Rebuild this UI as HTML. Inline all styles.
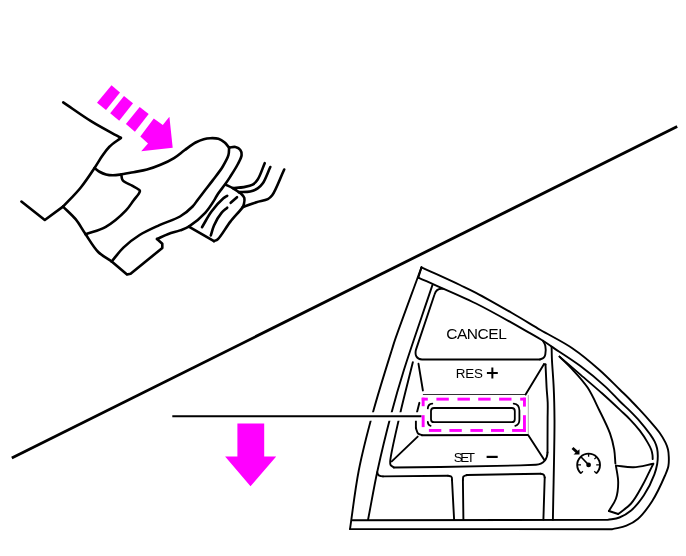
<!DOCTYPE html>
<html><head><meta charset="utf-8"><title>Cruise control</title>
<style>
html,body{margin:0;padding:0;background:#fff;}
body{width:686px;height:556px;overflow:hidden;font-family:"Liberation Sans",sans-serif;}
svg{display:block;}
text{font-family:"Liberation Sans",sans-serif;fill:#000;}
</style></head><body>
<svg width="686" height="556" viewBox="0 0 686 556">
<rect width="686" height="556" fill="#fff"/>
<!-- diagonal divider -->
<line x1="11.8" y1="458.1" x2="677.2" y2="126.6" stroke="#000" stroke-width="2.8"/>
<!-- shoe & pedal -->
<g fill="none" stroke="#000" stroke-width="2.6" stroke-linecap="round" stroke-linejoin="round">
<path d="M63.2,102.4 C72.7,108.8 82.1,115.7 91.8,121.7 C101.3,127.6 111.2,132.5 120.9,137.9"/>
<path d="M120.9,137.9 C117.1,140.8 112.6,143.6 109.4,146.7 C106.6,149.5 104.8,152.2 102.5,155.5 C99.8,159.2 97.6,163.4 94.5,168.0 C90.6,173.9 85.7,181.4 80.6,187.7 C75.3,194.3 68.9,200.3 63.0,206.6"/>
<path d="M63.0,206.6 L44.8,220.0 L21.4,201.6"/>
<path d="M94.5,168.0 C96.3,169.3 98.1,170.9 100.0,172.0 C101.9,173.1 103.9,173.9 106.0,174.5 C108.2,175.1 110.7,175.3 113.0,175.3 C115.3,175.3 117.3,175.0 120.0,174.6 C123.8,174.1 129.0,173.0 133.5,172.2 C138.0,171.3 142.5,170.7 147.0,169.5 C151.5,168.3 156.1,166.7 160.5,164.8 C165.1,162.9 169.9,160.7 174.0,158.1 C177.9,155.7 181.2,152.6 184.8,150.0 C188.4,147.4 192.2,144.4 195.6,142.5 C198.4,141.0 201.1,139.9 203.7,139.2 C205.9,138.6 207.9,138.3 210.2,138.2 C212.8,138.1 215.9,138.0 218.4,138.8 C220.7,139.5 222.9,141.1 224.7,142.6 C226.4,144.0 227.6,145.9 229.1,147.6"/>
<path d="M229.1,147.6 C228.9,150.1 229.2,152.5 228.4,155.2 C227.4,158.7 225.1,162.6 222.8,166.5 C220.1,171.0 216.0,176.0 212.7,180.4 C209.7,184.4 206.6,188.2 203.9,191.7 C201.6,194.7 199.6,197.4 197.6,200.0 C195.8,202.3 194.8,204.2 192.6,206.5 C189.5,209.7 184.9,213.6 180.0,216.5 C174.2,219.9 166.1,222.0 159.4,225.1 C152.7,228.2 145.7,231.2 139.6,235.0 C133.7,238.7 128.2,243.0 123.4,247.6 C118.9,251.9 115.6,256.9 111.7,261.5"/>
<path d="M229.1,147.6 C231.2,147.4 233.5,146.6 235.4,147.0 C237.2,147.4 239.4,148.7 240.4,150.1 C241.4,151.4 241.8,153.3 241.6,155.2 C241.4,157.8 239.5,160.9 237.9,164.0 C235.9,167.9 232.6,173.0 230.3,176.6 C228.5,179.4 227.2,181.4 225.3,184.1 C223.1,187.2 219.7,191.2 217.7,194.2 C216.3,196.4 215.8,197.8 214.3,200.1 C212.1,203.6 209.0,208.7 205.2,212.8 C200.8,217.6 193.6,223.6 188.8,226.6 C185.6,228.6 183.2,229.2 180.0,230.4 C176.4,231.7 172.2,232.6 168.4,234.0 C164.5,235.4 160.8,237.3 157.0,239.0"/>
<path d="M157.0,239.0 L162.3,243.7 L162.3,248.0 L130.6,273.7 L127.0,274.6 L111.7,261.5"/>
<path d="M63.0,206.6 C67.2,210.8 71.8,214.6 75.6,219.2 C79.4,223.8 82.0,229.1 85.6,234.3 C89.5,240.0 93.5,247.3 98.2,252.0 C102.3,256.1 107.2,258.3 111.7,261.5"/>
<path d="M85.6,234.3 C92.3,231.8 99.4,230.5 105.8,226.8 C112.9,222.8 121.1,215.5 126.0,210.4 C129.4,206.9 131.2,203.5 133.5,200.5 C135.5,197.9 138.0,195.1 139.0,193.3 C139.5,192.3 140.0,191.6 139.9,190.9 C139.8,190.2 139.0,189.8 138.2,189.2 C136.8,188.2 134.4,187.0 132.1,185.7 C129.3,184.1 124.4,182.6 122.7,180.3 C121.4,178.6 121.8,176.4 121.3,174.5"/>
<path d="M225.6,184.6 C227.9,185.7 230.4,186.7 232.6,188.0 C234.8,189.2 237.2,191.0 238.8,192.1 C239.9,192.8 240.6,193.2 241.4,194.0 C242.4,195.0 243.8,196.3 244.3,197.8 C244.8,199.6 244.3,202.4 243.9,204.1 C243.6,205.3 243.4,205.9 242.6,207.2 C240.7,210.3 234.4,216.5 230.4,221.6 C226.1,227.1 221.1,236.4 217.8,239.2 C216.4,240.4 215.3,240.5 214.0,241.1"/>
<path d="M214.0,241.1 L188.8,226.6"/>
<path d="M202.0,227.2 C205.2,222.0 207.9,216.3 211.5,211.5 C215.0,206.7 220.4,200.9 223.4,198.3 C224.9,197.0 225.9,196.6 227.2,195.8"/>
<path d="M210.8,235.4 C211.9,232.1 212.5,228.8 214.0,225.4 C215.8,221.3 218.9,215.9 221.5,212.8 C223.4,210.5 225.3,209.4 227.2,207.7"/>
<path d="M230.7,202.8 L237.0,197.2"/>
<path d="M232.6,188.0 C236.4,187.7 240.4,187.7 243.9,187.1 C247.0,186.5 250.3,186.0 252.7,184.6 C254.8,183.4 256.1,181.9 257.7,179.5 C260.2,175.8 262.4,168.6 264.7,163.2"/>
<path d="M238.8,192.1 C242.6,191.9 246.9,192.3 250.2,191.5 C253.0,190.9 255.6,189.8 257.7,188.4 C259.7,187.1 261.1,185.7 262.8,183.3 C265.4,179.6 267.8,172.4 270.3,167.0"/>
<path d="M242.6,207.2 C247.2,205.5 252.1,203.6 256.5,202.2 C260.4,201.0 265.0,200.6 267.8,199.1 C269.8,198.1 270.6,197.4 272.2,195.3 C275.7,190.7 280.2,178.1 284.2,169.5"/>
</g>
<!-- dashed arrow -->
<g fill="#ff00ff">
<polygon points="111.5,85.3 120,92.5 106,110 97,102.7"/>
<polygon points="124,96 133,103.3 119.2,120.7 110.2,113.2"/>
<polygon points="139.7,106.9 148.7,114 134.9,131.7 125.9,124"/>
<polygon points="153.8,118.6 162.8,124.9 169.4,116.8 172.7,147.7 141.2,151.3 148,143.4 140.3,136.6"/>
<polygon points="237.4,423.6 264.2,423.6 264.2,456.4 276.2,456.4 250.5,486.3 225.1,456.4 237.4,456.4"/>
</g>
<!-- panel -->
<g fill="none" stroke="#000" stroke-width="1.9" stroke-linecap="round" stroke-linejoin="round">
<path d="M350.0,529.1 C352.9,509.5 355.0,489.7 358.8,470.2 C362.7,450.5 367.8,431.2 373.2,411.5 C378.8,391.2 388.1,361.8 391.8,350.0 C393.3,345.2 393.4,344.6 395.0,339.9 C399.0,328.3 412.2,292.6 416.8,280.0 C418.9,274.2 419.9,271.5 421.5,267.3"/>
<path d="M421.5,267.3 C434.3,273.2 450.0,280.2 460.0,285.0 C466.5,288.1 469.7,289.5 476.0,292.8 C485.7,297.9 500.7,306.5 512.0,313.0 C522.1,318.8 530.7,324.2 540.5,330.0 C551.0,336.1 563.0,341.8 573.0,348.7 C582.6,355.2 591.4,362.8 599.5,370.0 C607.0,376.6 614.5,384.5 620.2,390.0 C624.2,393.9 627.1,396.6 630.4,400.0 C633.6,403.3 636.6,406.5 639.8,409.9 C643.1,413.4 646.4,417.1 649.7,420.8 C653.0,424.6 656.8,428.8 659.6,432.7 C662.0,436.1 664.0,439.5 665.5,442.6 C666.7,445.0 667.4,447.1 668.0,449.5 C668.6,451.9 668.7,454.4 668.8,457.0 C668.9,459.9 669.0,463.0 668.4,466.0 C667.8,469.2 666.7,471.6 665.0,475.5 C662.2,482.0 656.9,493.7 652.1,501.2 C647.8,507.8 643.0,514.5 638.1,518.7 C634.3,522.0 630.6,524.0 626.4,525.7 C622.1,527.5 617.1,528.0 612.4,529.2 L350,529.1"/>
<path d="M421.5,267.3 L418.3,277.7"/>
<path d="M418.3,277.7 C437.5,286.3 457.3,294.2 476.0,303.5 C494.5,312.7 518.2,326.5 530.0,333.2 C535.8,336.5 539.1,338.4 543.0,340.8 C546.2,342.8 547.9,344.1 551.6,346.6 C558.4,351.2 571.4,359.2 580.4,366.0 C589.0,372.4 597.8,379.7 604.8,386.1 C610.6,391.4 615.4,397.0 620.0,401.5 C623.6,405.1 626.6,407.6 629.9,410.9 C633.2,414.2 636.6,417.6 639.8,421.3 C643.2,425.2 647.0,430.0 649.7,433.7 C651.7,436.6 653.4,439.0 654.7,441.6 C655.8,443.9 656.6,446.1 657.1,448.5 C657.6,450.9 657.8,453.5 657.8,456.0 C657.8,458.6 657.7,461.2 657.2,464.0 C656.6,467.2 655.9,470.3 654.4,474.3 C652.2,480.2 648.0,489.1 643.9,495.3 C640.1,501.0 635.6,506.7 631.1,510.5 C627.4,513.7 623.4,515.9 619.4,517.5 C615.6,519.0 611.6,519.1 607.7,519.9 L352.5,520.3"/>
<path d="M432.5,284.9 C423.0,313.3 411.4,346.1 403.9,370.0 C398.5,387.2 395.2,398.9 391.0,414.7 C386.4,432.2 381.5,452.2 377.6,470.2 C373.9,487.1 371.3,503.1 368.1,519.5"/>
<path d="M443.3,288.9 C438.4,288 435.8,290.3 434.6,294.2 L416,349.6 C414.6,355 416.5,359.4 422,359.5 L540,359.5"/>
<path d="M540.0,359.4 C541.2,358.9 542.7,358.6 543.6,357.8 C544.5,357.0 545.0,355.9 545.3,354.5 C545.8,352.3 545.8,348.3 545.3,345.8 C544.9,343.8 543.8,342.5 543.0,340.8"/>
<path d="M412.9,362.1 C408.6,379.6 403.8,397.7 399.9,414.7 C396.3,430.7 390.5,454.5 390.2,461.4 C390.1,463.3 390.0,464.1 390.6,465.1 C391.2,466.1 392.8,466.6 393.9,467.4"/>
<path d="M393.9,467.5 L440,467 L520,465.4 L536,464.8 C543.5,464.4 547.4,459 547.5,452.5"/>
<path d="M547.5,452.5 C547.5,441.7 547.6,429.2 547.6,420.0 C547.6,413.3 547.9,408.2 547.7,402.6 C547.5,397.4 546.9,393.1 546.6,387.6 C546.2,380.7 545.9,372.2 545.5,364.5"/>
<path d="M418.5,363.8 L422.9,390.5"/>
<path d="M543.9,364.2 L525.6,394.5"/>
<path d="M545.5,364.5 L543.9,364.2"/>
<path d="M415.9,420.0 L415.9,428.1"/>
<path d="M415.9,428.1 C416.6,429.9 417.0,432.3 418.1,433.5 C419.1,434.5 420.6,434.6 421.9,435.2"/>
<path d="M421.9,435.2 L527.7,435.0"/>
<path d="M419.4,402.8 L417.0,412.3"/>
<path d="M417.7,436.6 L391.8,461.4"/>
<path d="M528.3,435.2 L544.5,460.3"/>
<path d="M551.6,346.6 C551.7,350.7 551.7,353.9 551.9,358.8 C552.2,366.4 553.3,377.7 553.7,387.6 C554.2,398.1 554.4,406.2 554.5,420.0 C554.6,444.1 553.4,486.5 552.9,519.8"/>
<path d="M559.5,356.6 C566.5,362.6 573.4,368.5 580.4,374.6 C587.5,380.8 595.2,387.2 602.0,393.3 C608.3,398.9 614.9,405.1 620.0,409.9 C623.8,413.5 626.7,415.9 629.9,419.3 C633.3,422.8 636.8,426.8 639.8,430.7 C642.7,434.5 645.7,439.1 647.7,442.6 C649.2,445.2 650.4,447.3 651.2,449.5 C651.9,451.4 652.3,453.3 652.5,455.0 C652.7,456.5 652.6,457.7 652.7,459.1"/>
<path d="M559.5,356.6 C564.1,361.2 568.7,365.4 573.2,370.3 C578.1,375.6 583.4,381.2 587.6,387.6 C592.1,394.4 595.5,402.4 599.2,410.0 C603.0,417.7 607.4,426.2 610.0,433.4 C612.1,439.2 613.3,444.5 614.2,449.7 C615.0,454.5 615.0,458.9 615.4,463.5"/>
<path d="M615.9,465.6 C621.7,466.2 627.4,467.5 633.4,467.3 C639.8,467.1 646.7,465.0 653.3,463.8"/>
<path d="M615.9,465.6 C616.7,471.2 618.2,476.9 618.2,482.5 C618.2,488.0 617.6,493.9 615.9,498.8 C614.3,503.3 611.2,506.9 608.9,511.0"/>
<path d="M608.9,511.0 L618.2,514.0"/>
<path d="M618.2,514.0 C622.5,510.5 627.2,507.9 631.1,503.5 C635.6,498.4 639.5,490.7 642.8,484.8 C645.6,479.9 647.9,474.7 649.8,470.8 C651.2,468.1 652.1,466.1 653.3,463.8"/>
<path d="M377.3,472.3 C377.7,475.4 379.6,476.4 383,476.4"/>
<path d="M383.0,476.4 L448.0,475.7"/>
<path d="M448.0,475.7 C449.2,476.1 451.0,476.2 451.6,477.0 C452.2,477.7 451.9,479.0 452.0,480.0"/>
<path d="M452.0,480.0 L454.1,519.5"/>
<path d="M463.4,519.5 L462.9,480.0"/>
<path d="M462.9,480.0 C463.1,478.8 462.8,477.3 463.5,476.5 C464.2,475.6 465.8,475.5 467.0,475.0"/>
<path d="M467.0,475.0 L540.7,473.7"/>
<path d="M540.7,473.7 C541.7,474.1 543.1,474.1 543.8,474.8 C544.4,475.4 544.4,476.6 544.7,477.5"/>
<path d="M544.7,477.5 L543.4,519.5"/>
</g>
<g fill="none" stroke="#000" stroke-width="0.8">
<path d="M422.9,394.5 L525.6,394.5"/>
</g>
<line x1="528.3" y1="395" x2="528.3" y2="434" stroke="#999" stroke-width="0.8"/>
<!-- leader line -->
<line x1="172.3" y1="416.5" x2="421" y2="416.5" stroke="#fff" stroke-width="8.6"/>
<line x1="172.3" y1="416.3" x2="421.5" y2="416.3" stroke="#000" stroke-width="2"/>
<!-- centre button -->
<g fill="none" stroke="#000" stroke-width="1.8" stroke-linecap="round">
<rect x="431" y="408" width="83.8" height="14.2" rx="3" ry="3"/>
<path d="M427.8,408.4 C428,405.5 429.8,403.8 432.3,403.6"/>
<path d="M427.8,422 C428,424.4 429,425.5 430.6,425.8"/>
<path d="M513.7,403.6 C517.5,404 519.4,406.6 519.4,410.6 L519.4,419.6 C519.4,423 518,425.3 515.3,425.8"/>
</g>
<!-- magenta dashed rectangle -->
<g fill="#ff00ff">
<rect x="421.7" y="397.7" width="6.1" height="2.9"/><rect x="421.7" y="397.7" width="2.9" height="8.5"/>
<rect x="436.4" y="397.7" width="12.4" height="2.9"/><rect x="457.5" y="397.7" width="12.4" height="2.9"/>
<rect x="478.2" y="397.7" width="12.4" height="2.9"/><rect x="499.1" y="397.7" width="12.4" height="2.9"/>
<rect x="520.2" y="397.7" width="5.7" height="2.9"/><rect x="523" y="397.7" width="2.9" height="8.9"/>
<rect x="421.7" y="415.2" width="2.9" height="11.9"/>
<rect x="523" y="415.2" width="2.9" height="16.7"/>
<rect x="428.9" y="429" width="12.4" height="2.9"/><rect x="449.4" y="429" width="12.4" height="2.9"/>
<rect x="470.4" y="429" width="12.4" height="2.9"/><rect x="491" y="429" width="13" height="2.9"/>
<rect x="512.1" y="429" width="13.8" height="2.9"/>
</g>
<!-- labels -->
<g style="filter:grayscale(1)">
<text x="446.2" y="338.8" font-size="15.5" letter-spacing="-0.45">CANCEL</text>
<text x="455.8" y="377.9" font-size="13.4" letter-spacing="-0.2">RES</text>
<path d="M486.9,373 H497.8 M492.35,367.6 V378.5" stroke="#000" stroke-width="2" fill="none"/>
<text x="453.8" y="461.9" font-size="13.4" letter-spacing="-2.5">SET</text>
<path d="M486.6,456.9 H497.7" stroke="#000" stroke-width="2.2" fill="none"/>
</g>
<!-- cruise icon -->
<g fill="none" stroke="#000" stroke-linecap="butt">
<path d="M580.9,473.4 A11.4,11.4 0 1 1 596.3,473.4" stroke-width="1.9"/>
<path d="M580.6,473.6 L582.9,471.2 M596.6,473.6 L594.3,471.2 M577.2,464.9 H581 M600,464.9 H596.2 M588.6,453.5 V456.8 M596.6,456.9 L594.4,459.1" stroke-width="1.3"/>
<path d="M588.6,464.9 L581.1,457" stroke-width="1.6"/>
<path d="M572.5,448 L577.3,452.4" stroke-width="2.8"/>
</g>
<circle cx="588.6" cy="464.9" r="2.4" fill="#000"/>
<polygon points="579.5,449.2 579.5,454.5 573.5,454.5" fill="#000"/>
</svg>
</body></html>
